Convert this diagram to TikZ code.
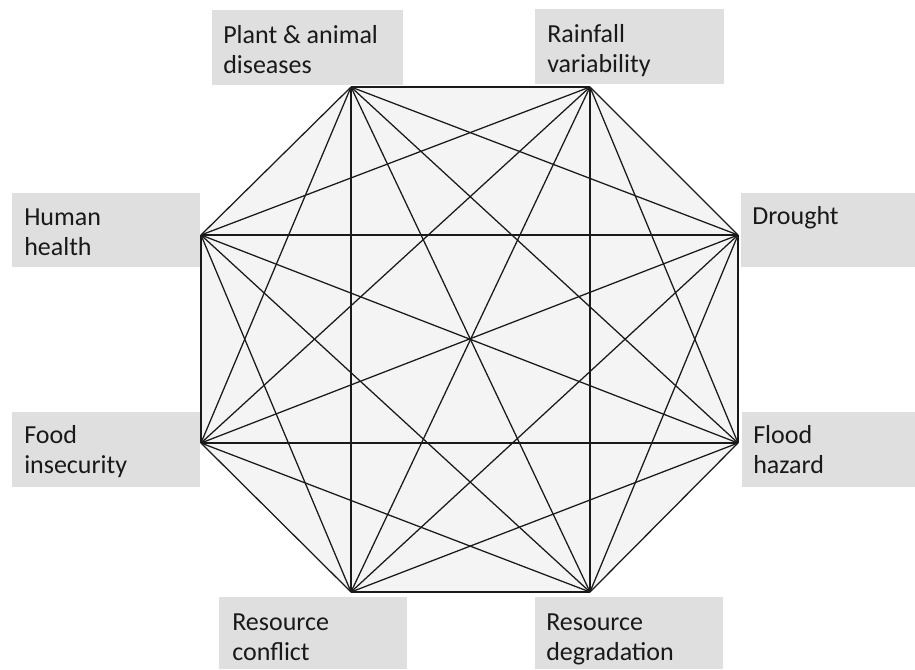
\documentclass[tikz,border=0pt]{standalone}
\usepackage{fontspec}
\setmainfont{Carlito}
\definecolor{boxgray}{HTML}{DFDFDF}
\definecolor{octfill}{HTML}{F4F4F4}
\definecolor{linecol}{HTML}{1A1A1A}
\begin{document}
\begin{tikzpicture}[x=0.75pt,y=-0.75pt,
  lblbox/.style={draw=none,fill=boxgray,inner sep=0pt},
  lbltext/.style={anchor=base west,inner sep=0pt,font=\fontsize{19.5pt}{22.5pt}\selectfont,text=black!90},
  edge/.style={draw=linecol,line width=0.95pt}]
\useasboundingbox (0,0) rectangle (915,669);
% label boxes
\path[fill=boxgray] (212,10) rectangle (403,85);
\path[fill=boxgray] (535,9) rectangle (724,84);
\path[fill=boxgray] (12,193) rectangle (200,267);
\path[fill=boxgray] (741,193) rectangle (915,267);
\path[fill=boxgray] (12,412) rectangle (200,487);
\path[fill=boxgray] (742,412) rectangle (915,487);
\path[fill=boxgray] (219,597) rectangle (407,669);
\path[fill=boxgray] (535,597) rectangle (723,669);
% texts
\newcommand{\twolines}[2]{\parbox[t]{200pt}{\fontsize{19.5pt}{22.5pt}\selectfont #1\\#2}}
\node[lbltext] (tplant) at (223,43) {\twolines{Plant \& animal}{diseases}};
\node[lbltext] (train) at (547,42) {\twolines{Rainfall}{variability}};
\node[lbltext] (thuman) at (24,225) {\twolines{Human}{health}};
\node[lbltext] (tdrought) at (752,224) {Drought};
\node[lbltext] (tfood) at (24,443) {\twolines{Food}{insecurity}};
\node[lbltext] (tflood) at (753,443) {\twolines{Flood}{hazard}};
\node[lbltext] (tconf) at (232,630) {\twolines{Resource}{conflict}};
\node[lbltext] (tdeg) at (546,630) {\twolines{Resource}{degradation}};
% vertices
\coordinate (v1) at (351,87);
\coordinate (v2) at (590,87);
\coordinate (v3) at (738,235);
\coordinate (v4) at (738,443);
\coordinate (v5) at (590,592);
\coordinate (v6) at (351,592);
\coordinate (v7) at (201,443);
\coordinate (v8) at (201,235);
\fill[octfill] (v1) -- (v2) -- (v3) -- (v4) -- (v5) -- (v6) -- (v7) -- (v8) -- cycle;
\foreach \i in {1,...,8}{
  \foreach \j in {1,...,8}{
    \ifnum\i<\j
      \draw[edge] (v\i) -- (v\j);
    \fi
  }
}
\end{tikzpicture}
\end{document}
